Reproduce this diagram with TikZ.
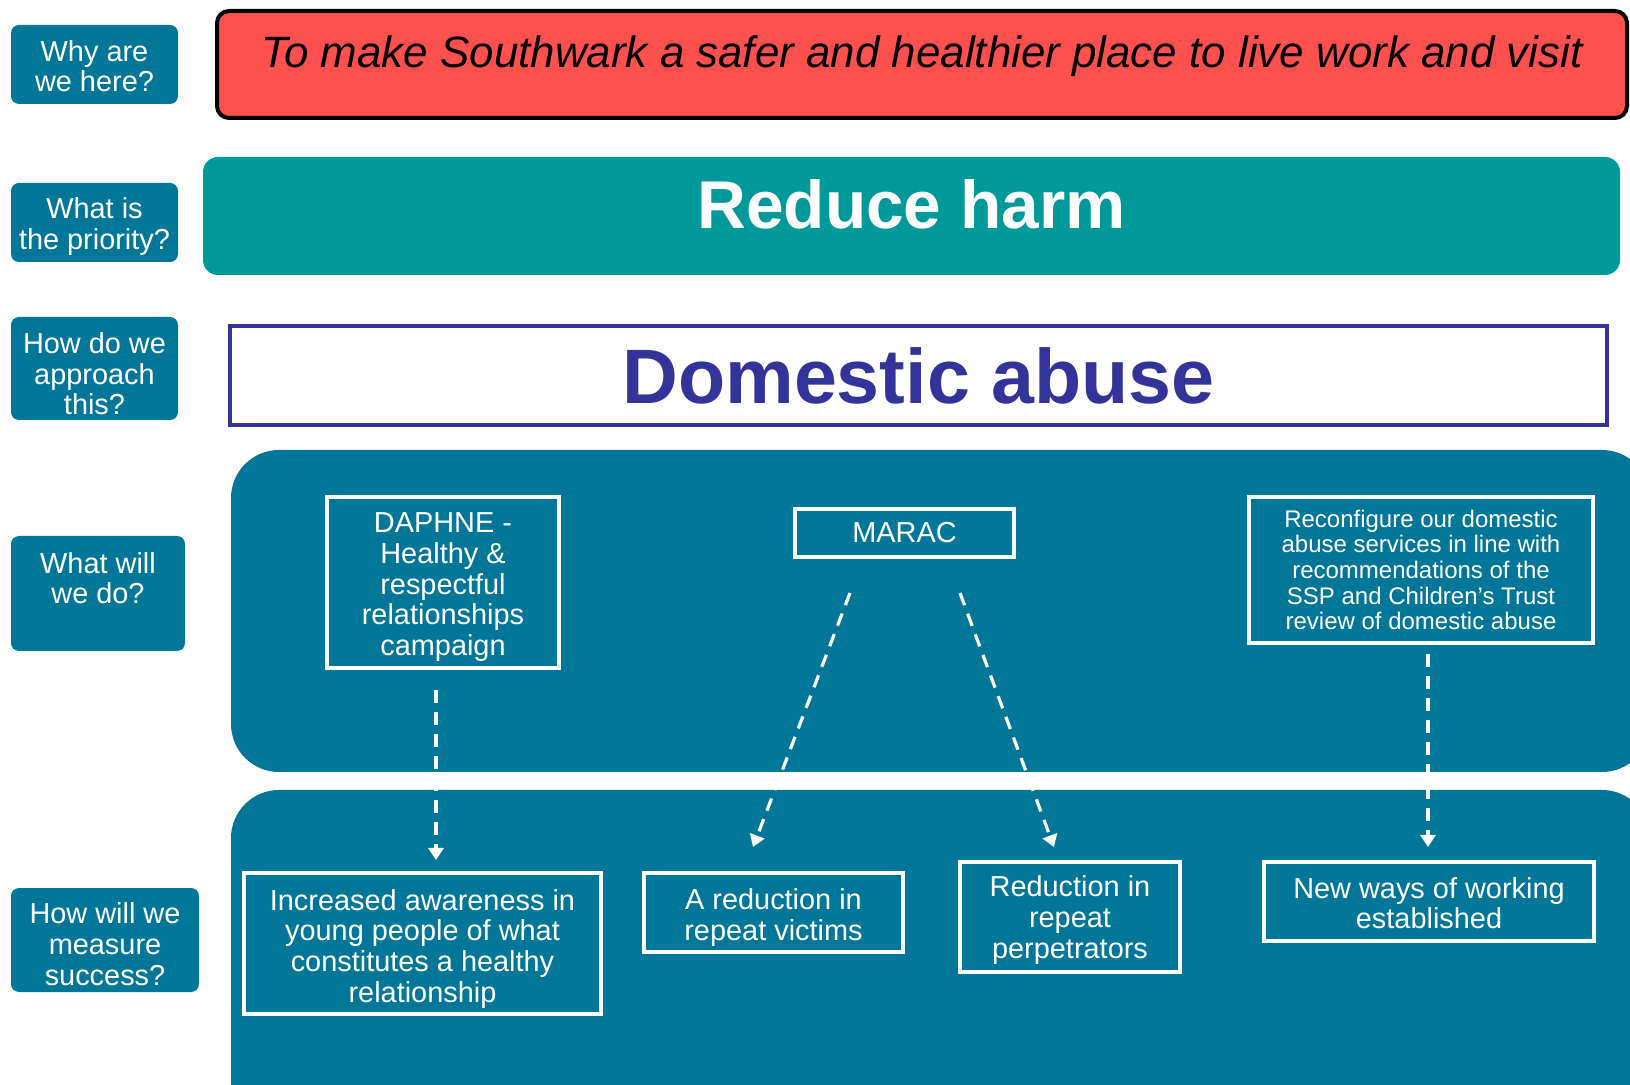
\documentclass[tikz,border=0pt]{standalone}
\usepackage{fontspec}
\setmainfont{Liberation Sans}
\usetikzlibrary{arrows.meta,calc}
\definecolor{lab}{HTML}{007799}
\definecolor{prio}{HTML}{009999}
\definecolor{aim}{HTML}{FF5050}
\definecolor{indigo}{HTML}{333399}
% tall invisible strut for a first line: pushes the text block down inside its box
\newcommand{\headroom}[1]{\rule{0pt}{#1}}
% deep invisible strut for a last line: lifts the text block inside its box
\newcommand{\footroom}[1]{\rule[-#1]{0pt}{#1}}
\begin{document}
\begin{tikzpicture}[x=0.5pt,y=-0.5pt,
  question/.style={fill=lab, rounded corners=4pt, text=white, align=center,
    inner sep=0pt, font=\fontsize{14.45}{15.4}\selectfont},
  wbox/.style={draw=white, line width=2pt, text=white, align=center,
    inner sep=0pt, font=\fontsize{14.45}{15.4}\selectfont},
  flow/.style={draw=white, line width=1.6pt, dash pattern=on 6.5pt off 4.5pt,
    -{Triangle[width=7.5pt,length=6pt]}}
]
\useasboundingbox (0,0) rectangle (1630,1085);
\clip (0,0) rectangle (1630,1085);

% question column
\node[question, minimum width=83.5pt, minimum height=39.5pt] (q1) at (94.5,64.5)
  {\headroom{12.1pt}Why are\\we here?};
\node[question, minimum width=83.5pt, minimum height=39.5pt] (q2) at (94.5,222.5)
  {\headroom{14.7pt}What is\\the priority?};
\node[question, minimum width=83.5pt, minimum height=51.5pt] (q3) at (94.5,368.5)
  {\headroom{15.7pt}How do we\\approach\\this?};
\node[question, minimum width=87pt, minimum height=57.5pt] (q4) at (98,593.5)
  {What will\\we do?\footroom{15.5pt}};
\node[question, minimum width=94pt, minimum height=52pt] (q5) at (105,940)
  {\headroom{14.7pt}How will we\\measure\\success?};

% aim, priority and approach banners
\node[draw=black, line width=2pt, fill=aim, rounded corners=6pt,
  minimum width=705pt, minimum height=53.5pt, inner sep=0pt,
  text height=16pt, text depth=12.6pt,
  font=\fontsize{21.95}{26}\selectfont\itshape] (aim) at (922,64.5)
  {To make Southwark a safer and healthier place to live work and visit};
\node[fill=prio, rounded corners=7.5pt, minimum width=708.5pt, minimum height=59pt,
  inner sep=0pt, text=white, text height=24pt, text depth=11pt,
  font=\fontsize{33.8}{40}\selectfont\bfseries] (prio) at (911.5,216) {Reduce harm};
\node[draw=indigo, line width=2pt, fill=white, minimum width=688.5pt, minimum height=49.5pt,
  inner sep=0pt, text=indigo, text height=27.6pt, text depth=0pt,
  font=\fontsize{38.6}{46}\selectfont\bfseries] (topic) at (918.5,375.5) {Domestic abuse};

% action and outcome panels
\fill[lab, rounded corners=24pt] (231,450) rectangle (1650,772);
\fill[lab, rounded corners=24pt] (231,790) rectangle (1650,1130);

% actions
\node[wbox, minimum width=116pt, minimum height=85.5pt] (daphne) at (443,582.5)
  {\headroom{14.6pt}DAPHNE -\\Healthy \&\\respectful\\relationships\\campaign};
\node[wbox, minimum width=109.5pt, minimum height=24pt] (marac) at (904.5,533) {MARAC};
\node[wbox, minimum width=172pt, minimum height=73pt, font=\fontsize{12}{12.8}\selectfont]
  (reconf) at (1421,570)
  {Reconfigure our domestic\\abuse services in line with\\recommendations of the\\SSP and Children’s Trust\\review of domestic abuse};

% outcomes
\node[wbox, minimum width=178.5pt, minimum height=70.5pt] (aware) at (422.5,943.5)
  {\headroom{15.7pt}Increased awareness in\\young people of what\\constitutes a healthy\\relationship};
\node[wbox, minimum width=129.5pt, minimum height=39.5pt] (victims) at (773.5,912.5)
  {\headroom{15.1pt}A reduction in\\repeat victims};
\node[wbox, minimum width=110pt, minimum height=55pt] (perps) at (1070,917)
  {\headroom{13.7pt}Reduction in\\repeat\\perpetrators};
\node[wbox, minimum width=165pt, minimum height=39.5pt] (newways) at (1429,901.5)
  {\headroom{12.1pt}New ways of working\\established};

% links from actions to outcomes
\draw[flow] ($(daphne.south)+(-7,20)$) -- ($(aware.north)+(13.5,-11)$);
\draw[flow] ($(marac.south)+(-54.5,34)$) -- ($(victims.north)+(-20.5,-24)$);
\draw[flow] ($(marac.south)+(55.5,34)$) -- ($(perps.north)+(-16,-13)$);
\draw[flow] ($(reconf.south)+(7,9)$) -- ($(newways.north)+(-1,-13)$);
\end{tikzpicture}
\end{document}
